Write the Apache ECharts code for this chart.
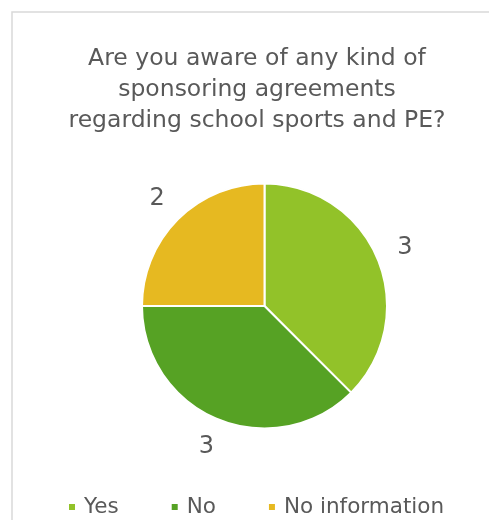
<!DOCTYPE html>
<html>
<head>
<meta charset="utf-8">
<script src="https://cdn.jsdelivr.net/npm/echarts@6/dist/echarts.min.js"></script>
<style>
  html, body { margin: 0; padding: 0; background: #ffffff; }
  #chart { width: 489px; height: 520px; }
</style>
</head>
<body>
<div id="chart"></div>
<script>
// Survey answers
const titleText = 'Are you aware of any kind of\nsponsoring agreements\nregarding school sports and PE?';
const categories = ['Yes', 'No', 'No information'];
const counts = [3, 3, 2];
const colors = ['#92C229', '#56A224', '#E6B921'];

const FONT = 'DejaVu Sans';
const TEXT = '#595959';

const pieData = categories.map((name, i) => ({
  name: name,
  value: counts[i],
  itemStyle: { color: colors[i] }
}));

const chart = echarts.init(document.getElementById('chart'), null, { renderer: 'canvas' });
chart.setOption({
  backgroundColor: '#ffffff',
  animation: false,
  graphic: [{
    type: 'rect',
    shape: { x: 12, y: 12, width: 520, height: 530 },
    style: { fill: 'none', stroke: '#D9D9D9', lineWidth: 1.5 },
    silent: true
  }],
  title: {
    text: titleText,
    left: 252,
    top: 38,
    textAlign: 'center',
    textStyle: {
      fontFamily: FONT,
      fontSize: 23.5,
      fontWeight: 'normal',
      color: TEXT,
      lineHeight: 31
    }
  },
  legend: {
    data: categories,
    left: 67,
    top: 496,
    padding: 0,
    icon: 'rect',
    itemWidth: 8,
    itemHeight: 8,
    itemGap: 51,
    textStyle: { fontFamily: FONT, fontSize: 21.5, color: TEXT, padding: [0, 0, 0, 3] }
  },
  series: [
    {
      type: 'pie',
      center: [264.5, 306],
      radius: [0, 122.5],
      startAngle: 90,
      clockwise: true,
      data: pieData,
      label: { show: false },
      labelLine: { show: false },
      itemStyle: { borderColor: '#ffffff', borderWidth: 2 },
      emphasis: { disabled: true }
    },
    {
      // invisible ring carrying the value labels just outside the pie
      type: 'pie',
      center: [264.5, 306],
      radius: [137, 161],
      startAngle: 90,
      clockwise: true,
      silent: true,
      legendHoverLink: false,
      data: pieData.map(d => ({ name: d.name, value: d.value, itemStyle: { color: 'rgba(0,0,0,0)' } })),
      label: {
        show: true,
        position: 'inside',
        formatter: '{c}',
        fontFamily: FONT,
        fontSize: 24,
        color: TEXT
      },
      labelLine: { show: false },
      emphasis: { disabled: true },
      tooltip: { show: false }
    }
  ]
});
</script>
</body>
</html>
